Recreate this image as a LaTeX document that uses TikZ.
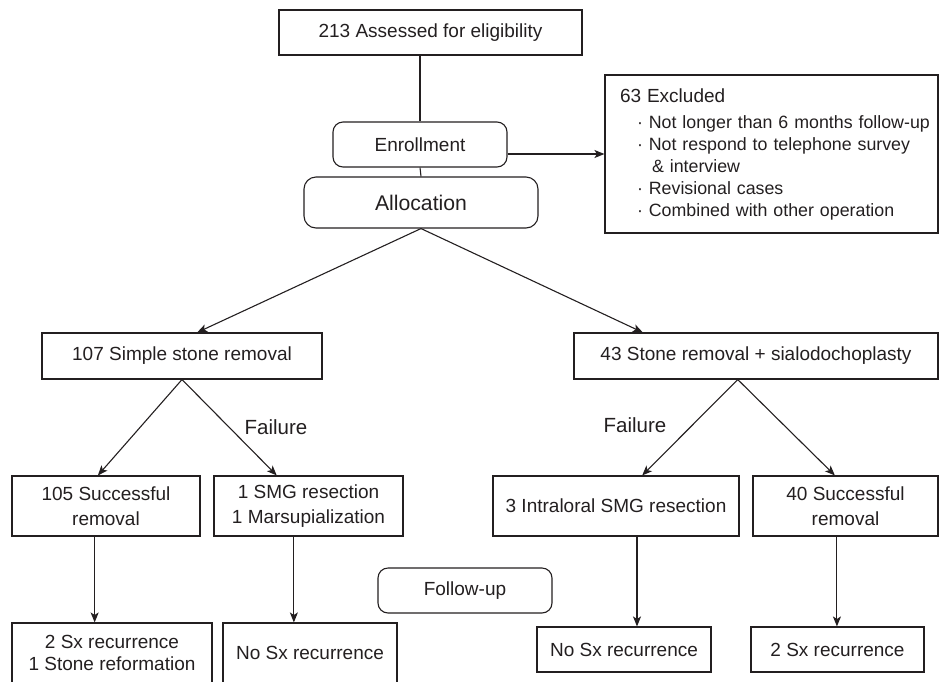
\documentclass[tikz,border=0pt]{standalone}
\usepackage{fontspec}
\setmainfont{Liberation Sans}
\usetikzlibrary{arrows.meta,calc}
\definecolor{ink}{RGB}{35,31,32}
\tikzset{
  box/.style={draw=ink, text=ink, line width=1.1pt, inner sep=2pt, align=center, font=\fontsize{19}{25}\selectfont},
  rbox/.style={box, rounded corners=10pt},
  lbl/.style={text=ink, font=\fontsize{20.5}{24}\selectfont},
}
\newcommand{\itm}[1]{\hspace*{24.5pt}·\ #1}
\begin{document}
\begin{tikzpicture}[>={Stealth[length=10pt,width=8pt,inset=2.5pt]}, x=1pt, y=-1pt, line width=1.1pt, draw=ink]
\useasboundingbox (0,0) rectangle (940,681);
% top
\node[box, minimum width=303, minimum height=45] (elig) at (430.5,32.5) {213 Assessed for eligibility};
\node[rbox, minimum width=174, minimum height=45] (enroll) at (420,144.5) {Enrollment};
\node[rbox, rounded corners=12pt, minimum width=234, minimum height=51, font=\fontsize{21.2}{25}\selectfont] (alloc) at (421,202.5) {Allocation};
\node[box, minimum width=333, minimum height=158, text width=318, inner xsep=7.5, align=left, font=\fontsize{17.8}{22}\selectfont] (excl) at (771.5,154)
{\hspace*{7.5pt}{\fontsize{19}{22}\selectfont 63 Excluded}\\[4pt]
\itm{Not longer than 6 months follow-up}\\
\itm{Not respond to telephone survey}\\
\hspace*{39.5pt}\& interview\\
\itm{Revisional cases}\\
\itm{Combined with other operation}};
\draw (elig.south -| enroll.north) -- (enroll.north);
\draw (enroll.south) -- (alloc.north);
\draw[->] (enroll.east |- excl.west) -- (excl.west);
% groups
\node[box, minimum width=280, minimum height=46] (simple) at (182,356) {107 Simple stone removal};
\node[box, minimum width=364, minimum height=46] (sialo) at (756,356) {43 Stone removal + sialodochoplasty};
\draw[->] (alloc.south) -- ($(simple.north west)!.554!(simple.north east)$);
\draw[->] (alloc.south) -- ($(sialo.north west)!.19!(sialo.north east)$);
% outcomes
\node[box, minimum width=188, minimum height=60] (succ1) at (106,506) {105 Successful\\removal};
\node[box, minimum width=189, minimum height=60] (smg) at (308.5,506) {1 SMG resection\\1 Marsupialization};
\node[box, minimum width=246, minimum height=60] (intra) at (616,506) {3 Intraloral SMG resection};
\node[box, minimum width=185, minimum height=60] (succ2) at (845.5,506) {40 Successful\\removal};
\draw[->] (simple.south) -- ($(succ1.north west)!.457!(succ1.north east)$);
\draw[->] (simple.south) -- ($(smg.north west)!.333!(smg.north east)$);
\coordinate (apex) at ($(sialo.south west)!.45!(sialo.south east)$);
\draw[->] (apex) -- ($(intra.north west)!.606!(intra.north east)$);
\draw[->] (apex) -- ($(succ2.north west)!.443!(succ2.north east)$);
\node[lbl] (fail1) at (276,427) {Failure};
\node[lbl] (fail2) at (635,425) {Failure};
% follow-up
\node[rbox, minimum width=174, minimum height=45] (follow) at (465,590.5) {Follow-up};
\node[box, minimum width=200, minimum height=60, font=\fontsize{19}{21.5}\selectfont] (rec1) at (112,653) {2 Sx recurrence\\1 Stone reformation};
\node[box, minimum width=174, minimum height=60] (nosx1) at (310,653) {No Sx recurrence};
\node[box, minimum width=174, minimum height=45] (nosx2) at (624,649.5) {No Sx recurrence};
\node[box, minimum width=173, minimum height=45] (rec2) at (837.5,649.5) {2 Sx recurrence};
\draw[->] ($(succ1.south west)!.44!(succ1.south east)$) coordinate (d1) -- (d1 |- rec1.north);
\draw[->] ($(smg.south west)!.423!(smg.south east)$) coordinate (d2) -- (d2 |- nosx1.north);
\draw[->] ($(intra.south west)!.585!(intra.south east)$) coordinate (d3) -- (d3 |- nosx2.north);
\draw[->] ($(succ2.south west)!.454!(succ2.south east)$) coordinate (d4) -- (d4 |- rec2.north);
\end{tikzpicture}
\end{document}
